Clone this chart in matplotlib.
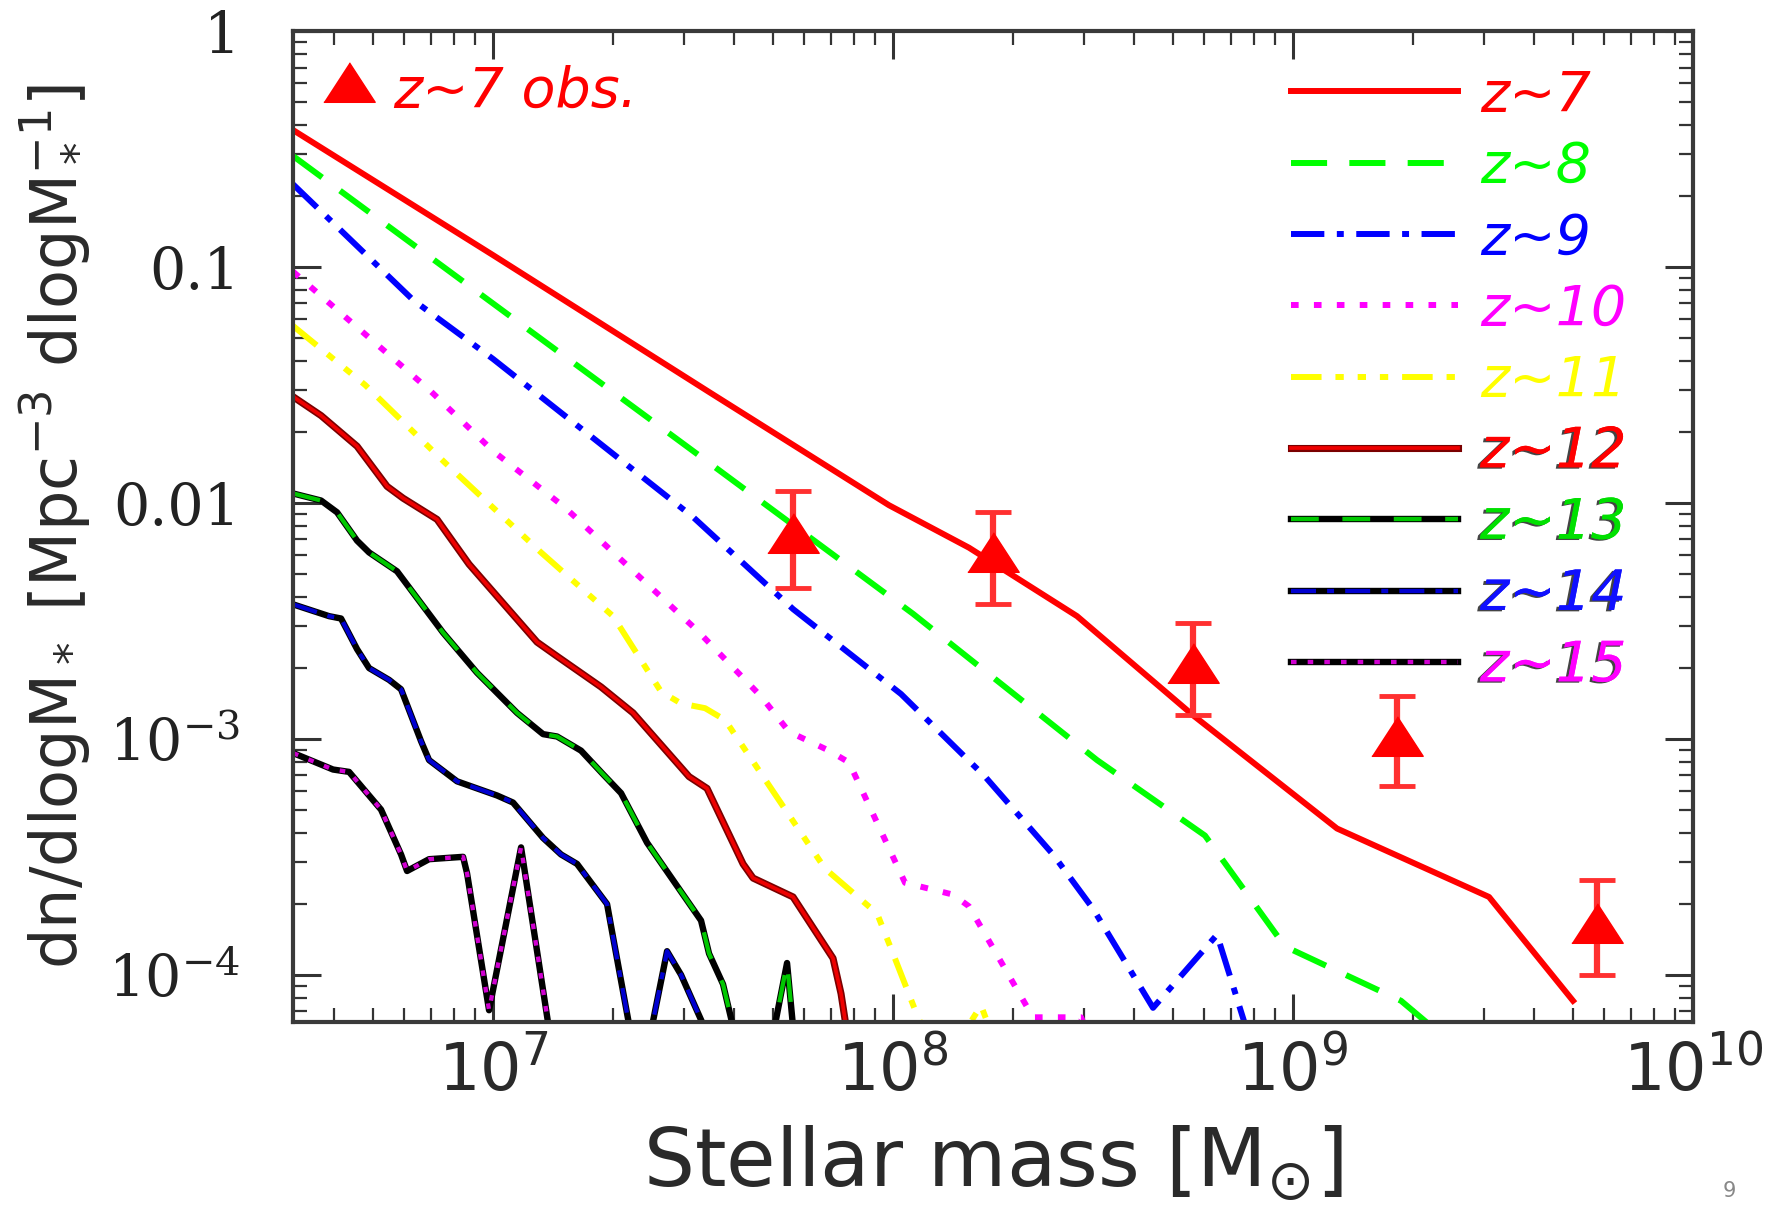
import numpy as np
import matplotlib
matplotlib.use("Agg")
import matplotlib.pyplot as plt
import matplotlib.patheffects as pe
from matplotlib.lines import Line2D
from matplotlib.legend_handler import HandlerTuple

plt.rcParams['lines.scale_dashes'] = False

# log10(M*/Msun), log10(dn/dlogM*)
z7_m = [6.50, 7.00, 7.54, 7.99, 8.19, 8.46, 8.75, 9.11, 9.49, 9.70]
z7_n = [-0.42, -0.95, -1.53, -2.01, -2.19, -2.48, -2.90, -3.38, -3.67, -4.11]

z8_m = [6.50, 7.54, 8.05, 8.51, 8.78, 8.98, 9.27, 9.34, 9.40]
z8_n = [-0.53, -1.83, -2.47, -3.09, -3.41, -3.88, -4.11, -4.21, -4.40]

z9_m = [6.50, 6.80, 7.00, 7.50, 7.75, 8.02, 8.23, 8.40, 8.50, 8.65, 8.81, 8.88, 8.92]
z9_n = [-0.65, -1.14, -1.39, -2.06, -2.45, -2.81, -3.16, -3.49, -3.72, -4.14, -3.83, -4.21, -4.40]

z10_m = [6.50, 6.67, 6.84, 7.00, 7.18, 7.51, 7.67, 7.74, 7.84, 7.89, 8.03, 8.15, 8.19, 8.35, 8.47, 8.55]
z10_n = [-1.02, -1.27, -1.52, -1.78, -2.02, -2.54, -2.82, -2.97, -3.05, -3.10, -3.61, -3.66, -3.71, -4.18, -4.18, -4.50]

z11_m = [6.50, 6.68, 6.88, 7.12, 7.30, 7.42, 7.47, 7.53, 7.58, 7.83, 7.96, 8.00, 8.06, 8.12, 8.22, 8.28]
z11_n = [-1.25, -1.50, -1.83, -2.21, -2.48, -2.80, -2.85, -2.87, -2.92, -3.55, -3.74, -3.91, -4.17, -4.40, -4.13, -4.40]

z12_m = [6.50, 6.57, 6.66, 6.735, 6.775, 6.86, 6.94, 7.11, 7.16, 7.27, 7.35, 7.49, 7.535, 7.625, 7.65, 7.75, 7.85, 7.87, 7.89]
z12_n = [-1.55, -1.63, -1.76, -1.93, -1.98, -2.07, -2.26, -2.59, -2.65, -2.78, -2.89, -3.16, -3.21, -3.53, -3.59, -3.67, -3.93, -4.08, -4.30]

z13_m = [6.50, 6.57, 6.61, 6.66, 6.69, 6.76, 6.875, 6.96, 7.06, 7.125, 7.16, 7.22, 7.275, 7.32, 7.385, 7.475, 7.52, 7.54, 7.575, 7.60, 7.66, 7.735, 7.75, 7.76]
z13_n = [-1.96, -1.99, -2.04, -2.16, -2.21, -2.29, -2.55, -2.72, -2.89, -2.98, -2.99, -3.05, -3.15, -3.23, -3.44, -3.66, -3.77, -3.91, -4.04, -4.22, -4.60, -3.95, -4.22, -4.35]

z14_m = [6.50, 6.59, 6.62, 6.66, 6.69, 6.74, 6.77, 6.82, 6.84, 6.91, 7.01, 7.05, 7.125, 7.17, 7.21, 7.285, 7.30, 7.34, 7.37, 7.435, 7.47, 7.525, 7.54]
z14_n = [-2.43, -2.48, -2.49, -2.62, -2.70, -2.75, -2.79, -3.01, -3.09, -3.18, -3.24, -3.27, -3.42, -3.49, -3.53, -3.70, -3.84, -4.21, -4.45, -3.90, -4.00, -4.21, -4.32]

z15_m = [6.50, 6.60, 6.64, 6.66, 6.72, 6.77, 6.785, 6.84, 6.925, 6.935, 6.99, 7.07, 7.14, 7.155]
z15_n = [-3.06, -3.13, -3.14, -3.18, -3.30, -3.49, -3.56, -3.51, -3.50, -3.57, -4.15, -3.46, -4.23, -4.32]

# z~7 observations
obs_m = [7.75, 8.25, 8.75, 9.26, 9.76]
obs_n = [-2.15, -2.23, -2.70, -3.01, -3.80]
obs_hi = [-1.95, -2.04, -2.51, -2.82, -3.60]
obs_lo = [-2.36, -2.43, -2.90, -3.20, -4.00]

labels = ['z~7', 'z~8', 'z~9', 'z~10', 'z~11', 'z~12', 'z~13', 'z~14', 'z~15']
text_colors = ['#ff0000', '#00ff00', '#0000ff', '#ff00ff', '#ffff00',
               '#ff0000', '#00e000', '#1010ff', '#ff00ff']

xticks = [1e7, 1e8, 1e9, 1e10]
xticklabels = ['$10^{7}$', '$10^{8}$', '$10^{9}$', '$10^{10}$']
yticks = [1, 0.1, 0.01, 1e-3, 1e-4]
yticklabels = ['1', '0.1', '0.01', '$10^{-3}$', '$10^{-4}$']


def lin(v):
    return np.power(10.0, np.asarray(v, dtype=float))


fig = plt.figure(figsize=(17.87, 12.19), dpi=100)
ax = fig.add_axes([0.164, 0.1616, 0.7834, 0.813])
ax.set_xscale('log')
ax.set_yscale('log')

lw = 4.3
h7, = ax.plot(lin(z7_m), lin(z7_n), color='#ff0000', lw=lw)
h8, = ax.plot(lin(z8_m), lin(z8_n), color='#00ff00', lw=lw, dashes=(26, 16))
h9, = ax.plot(lin(z9_m), lin(z9_n), color='#0000ff', lw=lw, dashes=(24, 9, 5, 9))
h10, = ax.plot(lin(z10_m), lin(z10_n), color='#ff00ff', lw=lw, dashes=(5.5, 11))
h11, = ax.plot(lin(z11_m), lin(z11_n), color='#ffff00', lw=lw,
               dashes=(22, 10, 6, 10, 6, 10, 6, 10))

# two-tone lines: dark line underneath, coloured pattern on top
b12, = ax.plot(lin(z12_m), lin(z12_n), color='#7a0000', lw=lw + 0.8)
h12, = ax.plot(lin(z12_m), lin(z12_n), color='#ee0000', lw=lw - 1.6)
b13, = ax.plot(lin(z13_m), lin(z13_n), color='black', lw=lw + 0.3)
h13, = ax.plot(lin(z13_m), lin(z13_n), color='#00c800', lw=lw - 1.2, dashes=(20, 17))
b14, = ax.plot(lin(z14_m), lin(z14_n), color='black', lw=lw + 0.3)
h14, = ax.plot(lin(z14_m), lin(z14_n), color='#0000d0', lw=lw - 1.2, dashes=(18, 8, 5, 8))
b15, = ax.plot(lin(z15_m), lin(z15_n), color='black', lw=lw + 0.3)
h15, = ax.plot(lin(z15_m), lin(z15_n), color='#d000d0', lw=lw - 1.2, dashes=(4, 8))

ym = lin(obs_n)
yerr = [ym - lin(obs_lo), lin(obs_hi) - ym]
tri = [(-1.3, -0.75), (1.3, -0.75), (0, 1.25)]
ax.errorbar(lin(obs_m), ym, yerr=yerr, fmt='none', ecolor='#ff3030',
            elinewidth=4.5, capsize=13, capthick=3.5, zorder=5)
ax.plot(lin(obs_m), ym, ls='none', marker=tri, ms=37, color='#ff0000', zorder=6)

ax.set_xlim(10 ** 6.5, 1e10)
ax.set_ylim(10 ** -4.2, 1.0)

ax.set_xticks(xticks)
ax.set_xticklabels(xticklabels)
ax.set_yticks(yticks)
ax.set_yticklabels(yticklabels)
ax.tick_params(which='both', direction='in', top=True, right=True, colors='#333333')
ax.tick_params(which='major', length=20, width=2.2)
ax.tick_params(which='minor', length=10, width=1.6)
ax.tick_params(axis='x', which='major', labelsize=47, pad=13, labelcolor='#2a2a2a')
ax.tick_params(axis='y', which='major', labelsize=41, pad=38, labelcolor='#222222')
for t in ax.get_yticklabels():
    t.set_fontfamily('DejaVu Serif')
    t.set_math_fontfamily('dejavuserif')
for sp in ax.spines.values():
    sp.set_linewidth(3)
    sp.set_color('#3a3a3a')

ax.set_xlabel(r'Stellar mass [M$_{\odot}$]', fontsize=58, color='#2a2a2a', labelpad=14)
ax.set_ylabel(r'dn/dlogM$_*$ [Mpc$^{-3}$ dlogM$_*^{-1}$]', fontsize=46,
              color='#2a2a2a', labelpad=14)

handles = [h7, h8, h9, h10, h11, (b12, h12), (b13, h13), (b14, h14), (b15, h15)]
leg = ax.legend(handles, labels, loc='upper left', bbox_to_anchor=(0.713, 0.962),
                frameon=False, handlelength=3.0, handletextpad=0.4,
                labelspacing=0.33, borderpad=0, borderaxespad=0,
                handler_map={tuple: HandlerTuple(ndivide=1, pad=0)},
                prop={'style': 'italic', 'size': 40})
for i, (t, c) in enumerate(zip(leg.get_texts(), text_colors)):
    t.set_color(c)
    if i >= 5:
        t.set_path_effects([pe.withSimplePatchShadow(offset=(-2, -1), shadow_rgbFace='#303030',
                                                     alpha=0.9), pe.Normal()])
ax.add_artist(leg)

obs_handle = Line2D([], [], ls='none', marker=tri, ms=37, color='#ff0000')
leg2 = ax.legend([obs_handle], ['z~7 obs.'], loc='upper left', bbox_to_anchor=(0.02, 0.966),
                 frameon=False, handlelength=1.0, handletextpad=0.3, borderpad=0,
                 borderaxespad=0, prop={'style': 'italic', 'size': 40})
leg2.get_texts()[0].set_color('#ff0000')

fig.text(0.9676, 0.023, '9', fontsize=15, color='#888888', ha='center', va='center')

fig.savefig('out.png', dpi=100)
